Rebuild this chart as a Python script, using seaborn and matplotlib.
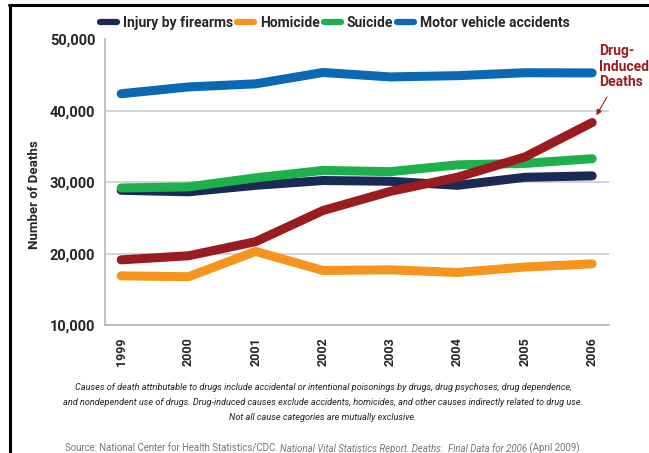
import pandas as pd
import matplotlib.pyplot as plt
import seaborn as sns
from matplotlib.lines import Line2D

years = [1999, 2000, 2001, 2002, 2003, 2004, 2005, 2006]
firearms = [28874, 28663, 29573, 30242, 30136, 29569, 30694, 30896]
homicide = [16889, 16765, 20308, 17638, 17732, 17357, 18124, 18573]
suicide = [29199, 29350, 30622, 31655, 31484, 32439, 32637, 33300]
motor = [42401, 43354, 43788, 45380, 44757, 44933, 45343, 45316]
drug = [19128, 19698, 21683, 26040, 28723, 30711, 33541, 38371]

causes = ['Injury by firearms', 'Homicide', 'Suicide', 'Motor vehicle accidents', 'Drug-Induced Deaths']
series = [firearms, homicide, suicide, motor, drug]
palette = {
    'Injury by firearms': '#1b2a55',
    'Homicide': '#f7941d',
    'Suicide': '#1db04b',
    'Motor vehicle accidents': '#0b68b3',
    'Drug-Induced Deaths': '#9b1c20',
}

rows = []
for cause, vals in zip(causes, series):
    for y, v in zip(years, vals):
        rows.append({'Year': y, 'Deaths': v, 'Cause': cause})
data = pd.DataFrame(rows)

sns.set_style("white")
plt.rcParams['font.family'] = ['Roboto', 'DejaVu Sans']

fig = plt.figure(figsize=(6.49, 4.53), dpi=100)
ax = fig.add_axes([105 / 649, 1 - 325 / 453, 504 / 649, 285.5 / 453])

sns.lineplot(data=data, x='Year', y='Deaths', hue='Cause', hue_order=causes,
             palette=palette, linewidth=6.5, solid_capstyle='round',
             solid_joinstyle='round', legend=False, ax=ax, zorder=3)

ax.set_xlim(1998.76, 2006.25)
ax.set_ylim(10000, 50000)
ax.set_yticks([10000, 20000, 30000, 40000, 50000])
ax.set_yticklabels([f"{v:,}" for v in [10000, 20000, 30000, 40000, 50000]],
                   fontsize=10.5, fontweight='bold')
ax.set_xticks(years)
ax.set_xticklabels([str(y) for y in years], rotation=90, fontsize=9, fontweight='bold')
ax.set_xticks([y + 0.5 for y in years[:-1]] + [2006.25], minor=True)
ax.tick_params(axis='x', which='major', length=0, pad=9)
ax.tick_params(axis='x', which='minor', direction='in', length=7, color='#bbbbbb', width=1.2)
ax.tick_params(axis='y', length=0, pad=7)
ax.set_xlabel('')
ax.set_ylabel('')
ax.grid(axis='y', color='#d0d0d0', linewidth=1.3, zorder=0)
ax.set_axisbelow(True)
for side in ['top', 'right']:
    ax.spines[side].set_visible(False)
for side in ['left', 'bottom']:
    ax.spines[side].set_color('#bbbbbb')
    ax.spines[side].set_linewidth(1.3)

fig.text(34 / 649, 1 - 195 / 453, 'Number of Deaths', rotation=90, ha='center', va='center',
         fontsize=9.5, fontweight='bold')

handles = [Line2D([], [], color=palette[c], lw=4.5, solid_capstyle='round') for c in causes[:4]]
fig.legend(handles, causes[:4], loc='center', bbox_to_anchor=(335 / 649, 1 - 23 / 453), ncol=4,
           frameon=False, handlelength=1.2, handletextpad=0.45, columnspacing=0.3,
           prop={'weight': 'bold', 'size': 10})

fig.text(599 / 649, 1 - 44 / 453, 'Drug-\nInduced\nDeaths', ha='left', va='top',
         fontsize=10, fontweight='bold', color=palette['Drug-Induced Deaths'], linespacing=1.15)
ax.annotate('', xy=(years[-1], drug[-1]), xycoords='data',
            xytext=(607, 453 - 97), textcoords='figure pixels',
            arrowprops=dict(arrowstyle='-|>', color=palette['Drug-Induced Deaths'], lw=0.8,
                            shrinkA=0, shrinkB=6, mutation_scale=8))

caption = [
    "Causes of death attributable to drugs include accidental or intentional poisonings by drugs, drug psychoses, drug dependence,",
    "and nondependent use of drugs. Drug-induced causes exclude accidents, homicides, and other causes indirectly related to drug use.",
    "Not all cause categories are mutually exclusive.",
]
for i, line in enumerate(caption):
    fig.text(323 / 649, 1 - (388 + 14.5 * i) / 453, line, ha='center', va='center',
             fontsize=6.6, style='italic', color='#222222')

t1 = fig.text(65 / 649, 1 - 449 / 453, "Source: National Center for Health Statistics/CDC. ",
              ha='left', va='center', fontsize=6.9, color='#777777')
t2 = ax.annotate("National Vital Statistics Report. Deaths:  Final Data for 2006",
                 xy=(1, 0), xycoords=t1, va='bottom', ha='left', fontsize=6.9,
                 color='#777777', style='italic', annotation_clip=False)
ax.annotate(" (April 2009).", xy=(1, 0), xycoords=t2, va='bottom', ha='left', fontsize=6.9,
            color='#777777', annotation_clip=False)

fig.add_artist(Line2D([9 / 649, 1], [1 - 5 / 453, 1 - 5 / 453], transform=fig.transFigure,
                      color='black', lw=2.2))
fig.add_artist(Line2D([10 / 649, 10 / 649], [0, 1 - 5 / 453], transform=fig.transFigure,
                      color='black', lw=2.2))

fig.savefig('out.png', dpi=100)
